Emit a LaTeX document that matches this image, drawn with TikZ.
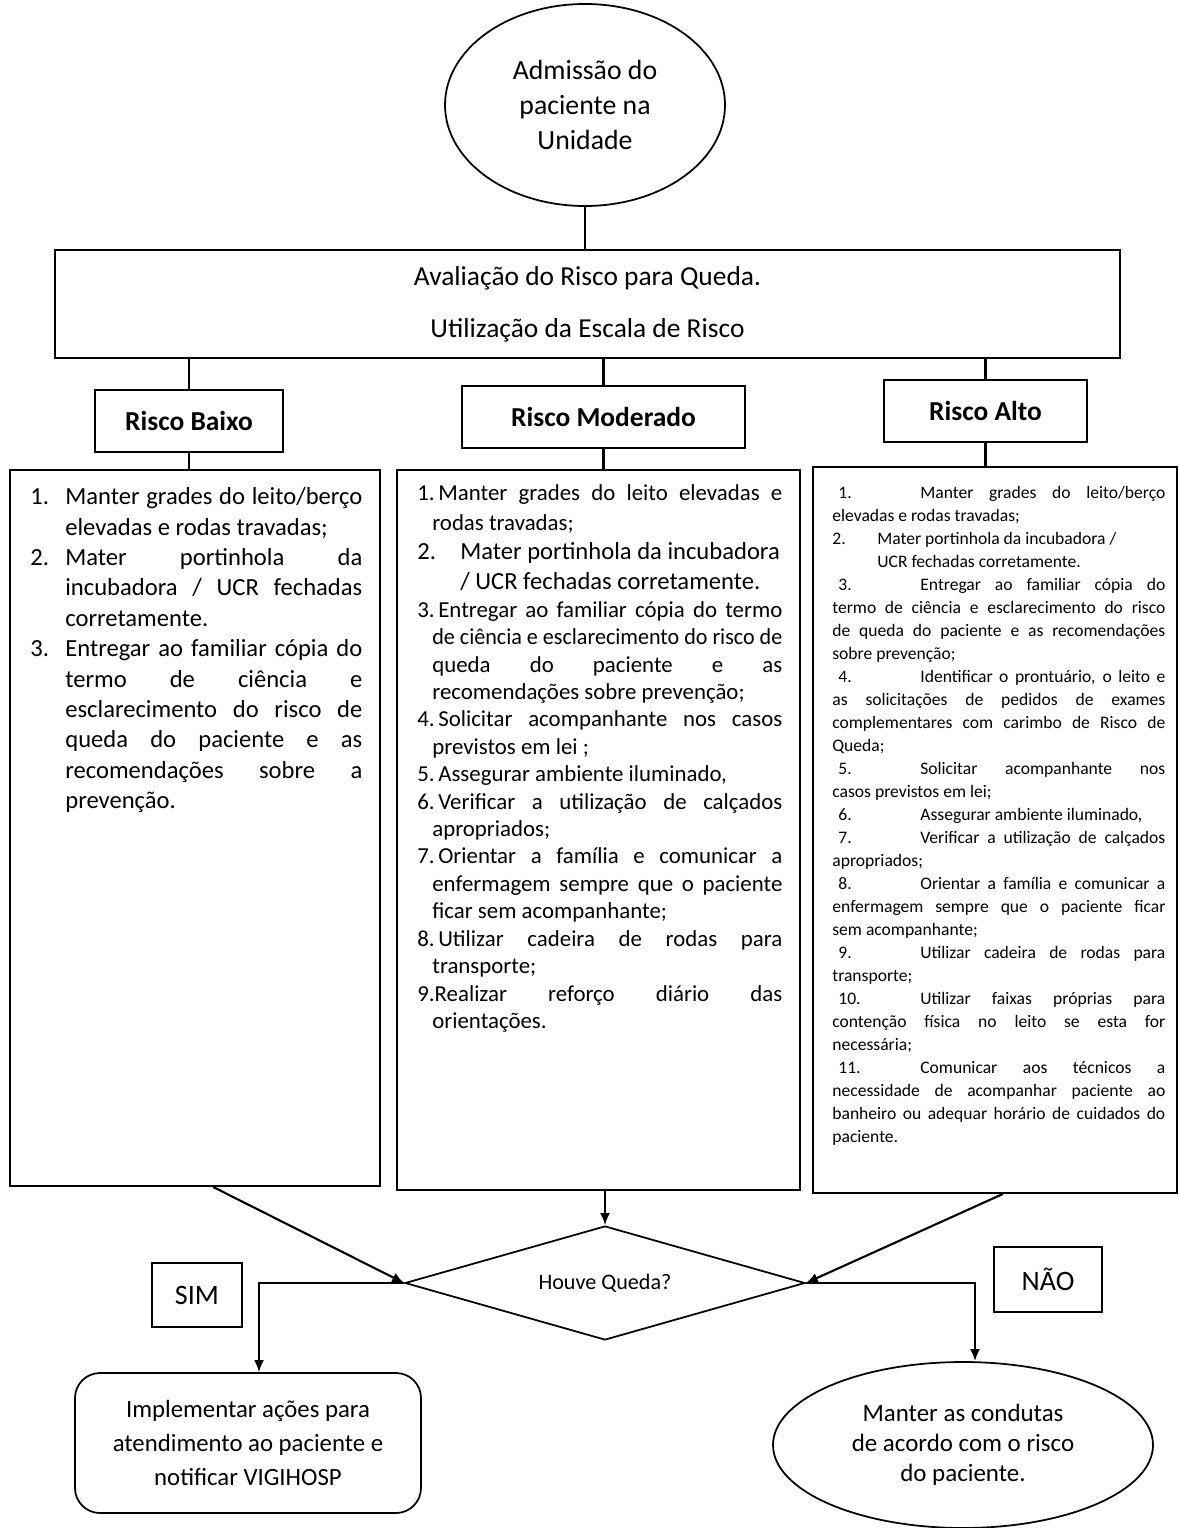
\documentclass[tikz,border=0pt]{standalone}
\usepackage{fontspec}
\usepackage{graphicx}
\setmainfont{Carlito}
\usetikzlibrary{arrows.meta,shapes.geometric}
\newcommand{\hitem}[4]{\par\hangindent=#1\hangafter=1\noindent\makebox[#2][l]{#3}#4}

\begin{document}
\begin{tikzpicture}[x=0.2mm, y=-0.2mm, >={Latex[length=2.4mm, width=2mm]}]
	\tikzstyle{box} = [draw, line width=1pt, rectangle, inner sep=0pt]
	\tikzstyle{risk} = [box, minimum height=12.4mm, font=\fontsize{15.6}{18}\selectfont\bfseries]
	\tikzstyle{list} = [anchor=north west, inner sep=0pt, align=justify]
	\tikzstyle{line} = [line width=1.2pt]

	\useasboundingbox (0,0) rectangle (1178,1528);

	% top of the chart
	\node[draw, line width=1pt, ellipse, minimum width=56mm, minimum height=40.4mm, inner sep=0pt, align=center, font=\fontsize{15.8}{19.9}\selectfont] (adm) at (585,105) {Admissão do\\paciente na\\Unidade};
	\node[box, minimum width=213mm, minimum height=21.6mm, align=center, font=\fontsize{15.6}{29.6}\selectfont] (aval) at (587.5,304) {Avaliação do Risco para Queda.\\Utilização da Escala de Risco};

	\node[risk, minimum width=37.6mm] (baixo) at (189,421) {Risco Baixo};
	\node[risk, minimum width=56.6mm] (moder) at (603.5,417) {Risco Moderado};
	\node[risk, minimum width=40.6mm] (alto) at (985.5,411) {Risco Alto};

	% the three columns
	\node[box, minimum width=74mm, minimum height=143.2mm] (col1) at (195,828) {};
	\node[box, minimum width=80.6mm, minimum height=144mm] (col2) at (598.5,830) {};
	\node[box, minimum width=72.8mm, minimum height=145.2mm] (col3) at (995,830) {};

	\node[list, text width=66.4mm, font=\fontsize{14}{17.3}\selectfont] (txt1) at (30,474) {%
		\hitem{7mm}{7mm}{1.}{Manter grades do leito/berço\linebreak elevadas e rodas travadas;}
		\hitem{7mm}{7mm}{2.}{Mater portinhola da\linebreak incubadora / UCR fechadas\linebreak corretamente.}
		\hitem{7mm}{7mm}{3.}{Entregar ao familiar cópia do\linebreak termo de ciência e\linebreak esclarecimento do risco de\linebreak queda do paciente e as\linebreak recomendações sobre a\linebreak prevenção.}\par};

	\node[list, text width=73mm, font=\fontsize{13}{15.6}\selectfont] (txt2) at (417,470) {%
		\hitem{3mm}{4.2mm}{1.}{Manter grades do leito elevadas e\linebreak rodas travadas;}
		{\fontsize{14}{17}\selectfont\hitem{8.6mm}{8.6mm}{2.}{Mater portinhola da incubadora\newline / UCR fechadas corretamente.}\par}
		\hitem{3mm}{4.2mm}{3.}{Entregar ao familiar cópia do termo\linebreak \resizebox{70mm}{\height}{de ciência e esclarecimento do risco de}\linebreak queda do paciente e as\linebreak recomendações sobre prevenção;}
		\hitem{3mm}{4.2mm}{4.}{Solicitar acompanhante nos casos\linebreak previstos em lei ;}
		\hitem{3mm}{4.2mm}{5.}{Assegurar ambiente iluminado,}
		\hitem{3mm}{4.2mm}{6.}{Verificar a utilização de calçados\linebreak apropriados;}
		\hitem{3mm}{4.2mm}{7.}{Orientar a família e comunicar a\linebreak enfermagem sempre que o paciente\linebreak ficar sem acompanhante;}
		\hitem{3mm}{4.2mm}{8.}{Utilizar cadeira de rodas para\linebreak transporte;}
		\par\hangindent=3mm\hangafter=1\noindent 9.Realizar reforço diário das\linebreak orientações.\par};

	\node[list, text width=66.6mm, font=\fontsize{10}{13.1}\selectfont] (txt3) at (832,475) {%
		\hitem{0pt}{17.6mm}{\hspace*{1.2mm}1.}{Manter grades do leito/berço\linebreak elevadas e rodas travadas;}
		\hitem{9mm}{9mm}{2.}{Mater portinhola da incubadora /\newline UCR fechadas corretamente.}
		\hitem{0pt}{17.6mm}{\hspace*{1.2mm}3.}{Entregar ao familiar cópia do\linebreak termo de ciência e esclarecimento do risco\linebreak de queda do paciente e as recomendações\linebreak sobre prevenção;}
		\hitem{0pt}{17.6mm}{\hspace*{1.2mm}4.}{Identificar o prontuário, o leito e\linebreak as solicitações de pedidos de exames\linebreak complementares com carimbo de Risco de\linebreak Queda;}
		\hitem{0pt}{17.6mm}{\hspace*{1.2mm}5.}{Solicitar acompanhante nos\linebreak casos previstos em lei;}
		\hitem{0pt}{17.6mm}{\hspace*{1.2mm}6.}{Assegurar ambiente iluminado,}
		\hitem{0pt}{17.6mm}{\hspace*{1.2mm}7.}{Verificar a utilização de calçados\linebreak apropriados;}
		\hitem{0pt}{17.6mm}{\hspace*{1.2mm}8.}{Orientar a família e comunicar a\linebreak enfermagem sempre que o paciente ficar\linebreak sem acompanhante;}
		\hitem{0pt}{17.6mm}{\hspace*{1.2mm}9.}{Utilizar cadeira de rodas para\linebreak transporte;}
		\hitem{0pt}{17.6mm}{\hspace*{1.2mm}10.}{Utilizar faixas próprias para\linebreak contenção física no leito se esta for\linebreak necessária;}
		\hitem{0pt}{17.6mm}{\hspace*{1.2mm}11.}{Comunicar aos técnicos a\linebreak necessidade de acompanhar paciente ao\linebreak banheiro ou adequar horário de cuidados do\linebreak paciente.}\par};

	% decision and outcomes
	\node[draw, line width=1pt, diamond, aspect=3.5, minimum width=80mm, minimum height=22.8mm, inner sep=0pt, font=\fontsize{12.6}{15}\selectfont] (q) at (605,1283) {Houve Queda?};
	\node[box, minimum width=18mm, minimum height=12.8mm, font=\fontsize{16}{18}\selectfont] (sim) at (197,1295) {SIM};
	\node[box, minimum width=21.6mm, minimum height=13mm, font=\fontsize{16}{18}\selectfont] (nao) at (1048,1279.5) {NÃO};
	\node[box, rounded corners=5mm, minimum width=69.2mm, minimum height=28mm, align=center, font=\fontsize{14.1}{19.3}\selectfont] (act) at (248,1443) {Implementar ações para\\atendimento ao paciente e\\notificar VIGIHOSP};
	\node[draw, line width=1pt, ellipse, minimum width=76mm, minimum height=33.2mm, inner sep=0pt, align=center, font=\fontsize{14.2}{17}\selectfont] (keep) at (963,1445) {Manter as condutas\\de acordo com o risco\\do paciente.};

	\draw[line] (adm.south) -- (adm.south |- aval.north);
	\draw[line] (baixo.north |- aval.south) -- (baixo.north);
	\draw[line] (moder.north |- aval.south) -- (moder.north);
	\draw[line] (alto.north |- aval.south) -- (alto.north);
	\draw[line] (baixo.south) -- (baixo.south |- col1.north);
	\draw[line] (moder.south) -- (moder.south |- col2.north);
	\draw[line] (alto.south) -- (alto.south |- col3.north);

	\draw[line, ->] ([xshift=3.6mm]col1.south) -- (q.west);
	\draw[line, ->] (q.north |- col2.south) -- (q.north);
	\draw[line, ->] ([xshift=1.6mm]col3.south) -- (q.east);
	\draw[line, ->] (q.west) -| ([xshift=2.2mm]act.north);
	\draw[line, ->] (q.east) -| ([xshift=2.4mm]keep.north);
\end{tikzpicture}
\end{document}
